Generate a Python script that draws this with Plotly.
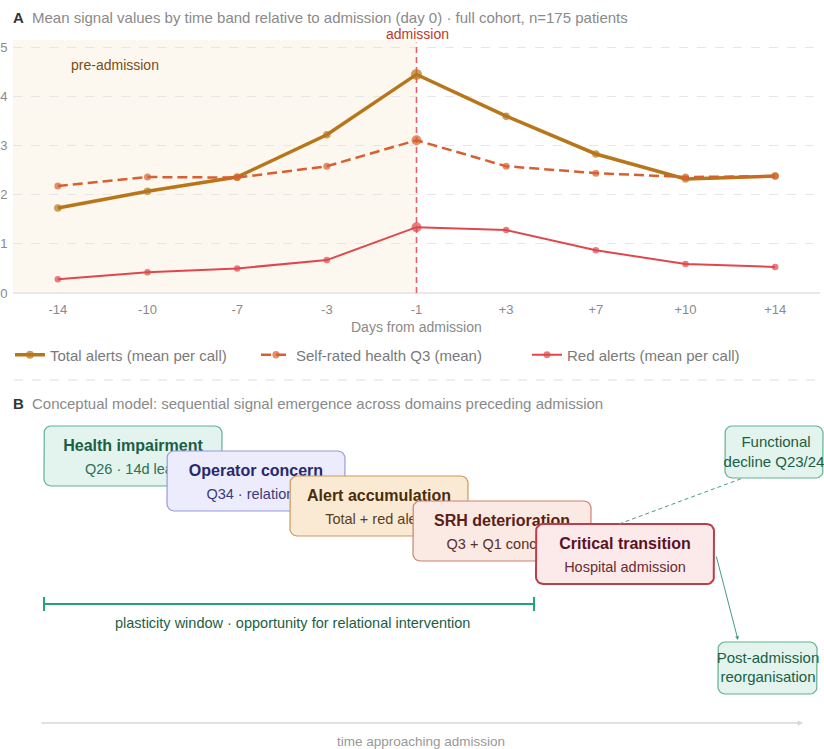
import plotly.graph_objects as go

# ---------------- data ----------------
days = ["-14", "-10", "-7", "-3", "-1", "+3", "+7", "+10", "+14"]
total_alerts = [1.73, 2.07, 2.36, 3.22, 4.45, 3.60, 2.83, 2.32, 2.38]
srh_q3 = [2.18, 2.36, 2.35, 2.58, 3.11, 2.58, 2.44, 2.36, 2.38]
red_alerts = [0.28, 0.42, 0.50, 0.67, 1.34, 1.28, 0.87, 0.59, 0.53]
y_ticks = [0, 1, 2, 3, 4, 5]
admission_label = "-1"

stage_titles = ["Health impairment", "Operator concern", "Alert accumulation",
                "SRH deterioration", "Critical transition"]
stage_subs = ["Q26 · 14d lead", "Q34 · relational", "Total + red alerts",
              "Q3 + Q1 concern", "Hospital admission"]

# ---------------- style / layout ----------------
W = 824
H = 749
FONT = "Liberation Sans, Arial, sans-serif"
C_TOTAL = "#b8761b"
C_SRH = "#d95f30"
C_RED = "#e0474c"


def px(x):  # figure pixel -> paper x
    return x / W


def py(y):  # figure pixel -> paper y
    return 1 - y / H


fig = go.Figure()

big = [11 if d == admission_label else 7.5 for d in days]
big_s = [10 if d == admission_label else 7 for d in days]
big_r = [10 if d == admission_label else 6.5 for d in days]

# admission reference line (drawn first so markers sit on top)
fig.add_trace(go.Scatter(x=[admission_label, admission_label], y=[0, 5.1], mode="lines",
                         line=dict(color="#e8606a", width=1.6, dash="6px,4px"),
                         hoverinfo="skip", showlegend=False, xaxis="x", yaxis="y"))

fig.add_trace(go.Scatter(x=days, y=total_alerts, mode="lines+markers",
                         name="Total alerts (mean per call)",
                         line=dict(color=C_TOTAL, width=3.5),
                         marker=dict(color=C_TOTAL, size=big, line=dict(width=0)),
                         legendwidth=201, xaxis="x", yaxis="y"))
fig.add_trace(go.Scatter(x=days, y=srh_q3, mode="lines+markers",
                         name="Self-rated health Q3 (mean)",
                         line=dict(color=C_SRH, width=2.5, dash="10px,5px"),
                         marker=dict(color=C_SRH, size=big_s, line=dict(width=0)),
                         legendwidth=226, xaxis="x", yaxis="y"))
fig.add_trace(go.Scatter(x=days, y=red_alerts, mode="lines+markers",
                         name="Red alerts (mean per call)",
                         line=dict(color=C_RED, width=2),
                         marker=dict(color=C_RED, size=big_r, line=dict(width=0)),
                         xaxis="x", yaxis="y"))

# ---------------- panel B (pixel space on x2/y2) ----------------
def rrect(x0, y0, x1, y1, r=7, n=6):
    import math
    xs, ys = [], []
    corners = [(x1 - r, y0 + r, -90, 0), (x1 - r, y1 - r, 0, 90),
               (x0 + r, y1 - r, 90, 180), (x0 + r, y0 + r, 180, 270)]
    for cx, cy, a0, a1 in corners:
        for i in range(n + 1):
            a = math.radians(a0 + (a1 - a0) * i / n)
            xs.append(cx + r * math.cos(a))
            ys.append(cy + r * math.sin(a))
    xs.append(xs[0]); ys.append(ys[0])
    return xs, ys


box_w, box_h = 178, 60
box_x0 = [44, 167, 290, 413, 536]
box_y0 = [426, 451, 476, 501, 524]
box_fill = ["#e2f4ed", "#ececfc", "#fbead3", "#fbe9e4", "#fce9ea"]
box_line = ["#62b08f", "#9898e2", "#c99a5c", "#cd8070", "#b9404a"]
box_lw = [1.2, 1.2, 1.2, 1.2, 2]
title_col = ["#1b5e45", "#28286c", "#4a2e0c", "#5a1e14", "#5a1222"]
sub_col = ["#2d6f57", "#3a3a7c", "#5a3e1c", "#5a2e24", "#6a2a30"]


def add_box(x0, y0, x1, y1, fill, line, lw):
    xs, ys = rrect(x0, y0, x1, y1)
    fig.add_trace(go.Scatter(x=xs, y=ys, mode="lines", fill="toself",
                             fillcolor=fill, line=dict(color=line, width=lw),
                             hoverinfo="skip", showlegend=False,
                             xaxis="x2", yaxis="y2"))


def add_text(x, y, txt, size, color):
    fig.add_trace(go.Scatter(x=[x], y=[y], mode="text", text=[txt],
                             textposition="middle center",
                             textfont=dict(size=size, color=color, family=FONT),
                             hoverinfo="skip", showlegend=False,
                             xaxis="x2", yaxis="y2"))


for i in range(5):
    x0, y0 = box_x0[i], box_y0[i]
    add_box(x0, y0, x0 + box_w, y0 + box_h, box_fill[i], box_line[i], box_lw[i])
    cx = x0 + box_w / 2
    add_text(cx, y0 + 21, "<b>" + stage_titles[i] + "</b>", 16, title_col[i])
    add_text(cx, y0 + 44, stage_subs[i], 14.5, sub_col[i])

# functional decline box + post-admission box
add_box(725, 426, 823, 478, "#e2f4ed", "#62b08f", 1.2)
add_text(776, 443, "Functional", 15, "#1b5e45")
add_text(774, 463, "decline Q23/24", 15, "#1b5e45")
add_box(718, 642, 817, 694, "#e2f4ed", "#62b08f", 1.2)
add_text(768, 659, "Post-admission", 15, "#1b5e45")
add_text(768, 678, "reorganisation", 15, "#1b5e45")

shapes = []
annotations = []

# panel A shading
shapes.append(dict(type="rect", xref="x", yref="y", x0=-0.5, x1=days.index(admission_label),
                   y0=0, y1=5.15, fillcolor="#fcf8f0", line=dict(width=0), layer="below"))

# separator
shapes.append(dict(type="line", xref="x2", yref="y2", x0=14, x1=820, y0=380, y1=380,
                   line=dict(color="#dddddd", width=1, dash="dash")))
# plasticity window
PG = "#22a37a"
shapes.append(dict(type="line", xref="x2", yref="y2", x0=44, x1=534, y0=604, y1=604,
                   line=dict(color=PG, width=2)))
for xx in (44, 534):
    shapes.append(dict(type="line", xref="x2", yref="y2", x0=xx, x1=xx, y0=597, y1=611,
                       line=dict(color=PG, width=2)))
# dashed connector to functional decline
shapes.append(dict(type="line", xref="x2", yref="y2", x0=619, x1=743, y0=524, y1=478,
                   line=dict(color="#4a9a80", width=1, dash="4px,3px")))

# arrows
annotations.append(dict(xref="x2", yref="y2", axref="x2", ayref="y2",
                        x=738, y=640, ax=716, ay=555, text="", showarrow=True,
                        arrowhead=2, arrowsize=0.8, arrowwidth=1, arrowcolor="#4a9a80"))
annotations.append(dict(xref="x2", yref="y2", axref="x2", ayref="y2",
                        x=803, y=723, ax=40, ay=723, text="", showarrow=True,
                        arrowhead=2, arrowsize=0.7, arrowwidth=1.5, arrowcolor="#d8d8d8"))


def note(x, y, txt, size, color, anchor="left", bold=False):
    annotations.append(dict(xref="x2", yref="paper", x=x, y=py(y),
                            text=("<b>%s</b>" % txt) if bold else txt,
                            showarrow=False, xanchor=anchor, yanchor="middle",
                            borderpad=0,
                            font=dict(size=size, color=color, family=FONT)))


note(12, 17, "A", 15, "#333333", bold=True)
note(31, 17, "Mean signal values by time band relative to admission (day 0) · full cohort, n=175 patients", 15, "#8a8a8a")
note(12, 403, "B", 15, "#333333", bold=True)
note(31, 403, "Conceptual model: sequential signal emergence across domains preceding admission", 15, "#8a8a8a")
note(417, 34, "admission", 14, "#c0392b", anchor="center")
note(115, 65, "pre-admission", 14, "#7a4e12", anchor="center")
note(416, 327, "Days from admission", 14, "#8a8a8a", anchor="center")
note(292, 623, "plasticity window · opportunity for relational intervention", 14.5, "#1b5e45", anchor="center")
note(421, 741, "time approaching admission", 13.5, "#999999", anchor="center")

fig.update_layout(
    width=W, height=H, margin=dict(l=0, r=0, t=0, b=0, autoexpand=False),
    paper_bgcolor="white", plot_bgcolor="rgba(0,0,0,0)",
    font=dict(family=FONT, size=13, color="#888888"),
    showlegend=True,
    legend=dict(orientation="h", x=px(10), y=py(355), xanchor="left", yanchor="middle",
                font=dict(size=15, color="#7a7a7a"), bgcolor="rgba(0,0,0,0)",
                tracegroupgap=0),
    xaxis=dict(domain=[px(13), px(820)], type="category", range=[-0.5, 8.5],
               categoryorder="array", categoryarray=days,
               showgrid=False, zeroline=False, showline=False, ticks="outside",
               ticklen=4, tickcolor="rgba(0,0,0,0)", automargin=False,
               tickfont=dict(size=13, color="#8a8a8a"), fixedrange=True, anchor="y"),
    yaxis=dict(domain=[py(293), py(40)], range=[0, 5.15], tickvals=y_ticks,
               showgrid=True, gridcolor="#e6e6e6", griddash="dash", gridwidth=1,
               zeroline=True, zerolinecolor="#e8e8e8", zerolinewidth=2,
               showline=False, ticks="outside", ticklen=2, tickcolor="rgba(0,0,0,0)",
               automargin=False,
               tickfont=dict(size=13, color="#8a8a8a"), fixedrange=True, anchor="x"),
    xaxis2=dict(domain=[0, 1], range=[0, W], visible=False, fixedrange=True, anchor="y2",
                automargin=False),
    yaxis2=dict(domain=[0, 1], range=[H, 0], visible=False, fixedrange=True, anchor="x2",
                automargin=False),
    shapes=shapes, annotations=annotations,
)

fig.write_html("out.html")
